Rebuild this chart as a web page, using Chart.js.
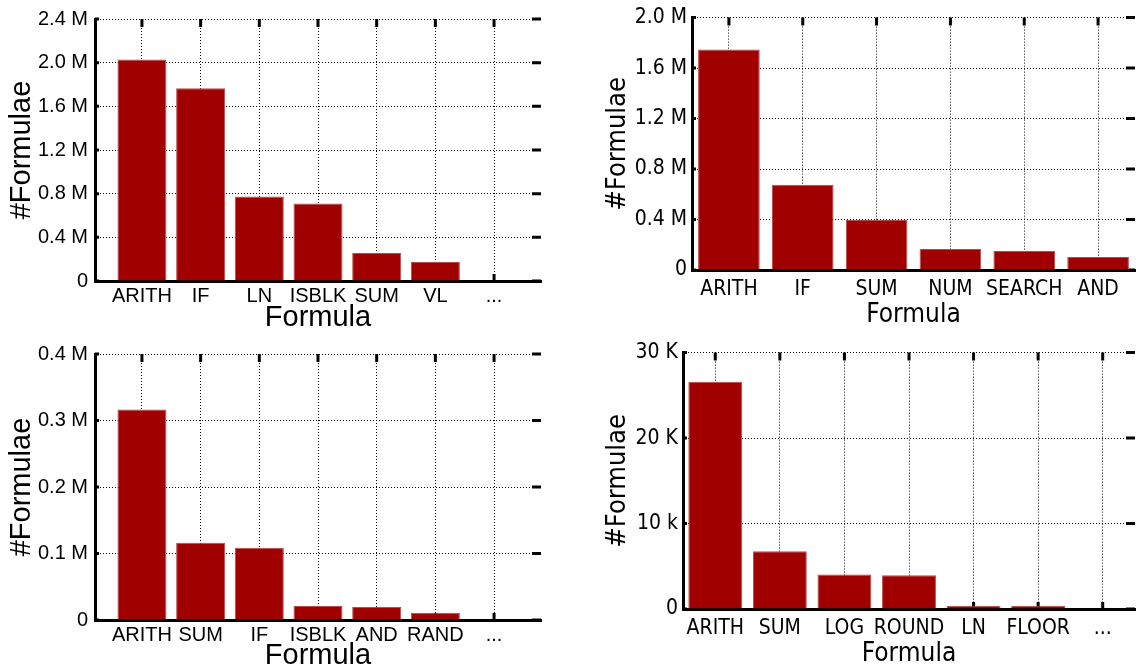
<!DOCTYPE html>
<html>
<head>
<meta charset="utf-8">
<script src="https://cdn.jsdelivr.net/npm/chart.js@4.4.1/dist/chart.umd.min.js"></script>
<style>
  body { margin: 0; background: #fff; }
  #wrap { position: relative; width: 1136px; height: 670px; overflow: hidden; }
  canvas { position: absolute; }
</style>
</head>
<body>
<div id="wrap">
  <canvas id="topLeft" width="568" height="335" style="left:0;top:0"></canvas>
  <canvas id="topRight" width="568" height="335" style="left:568px;top:0"></canvas>
  <canvas id="bottomLeft" width="568" height="335" style="left:0;top:335px"></canvas>
  <canvas id="bottomRight" width="568" height="335" style="left:568px;top:335px"></canvas>
</div>
<script>
// data
const topLeftLabels = ['ARITH', 'IF', 'LN', 'ISBLK', 'SUM', 'VL', '...'];
const topLeftValues = [2030000, 1765000, 773000, 710000, 257000, 173000, null];
const topLeftTicks = ['0', '0.4 M', '0.8 M', '1.2 M', '1.6 M', '2.0 M', '2.4 M'];

const topRightLabels = ['ARITH', 'IF', 'SUM', 'NUM', 'SEARCH', 'AND'];
const topRightValues = [1748000, 675000, 397000, 166000, 151000, 104000];
const topRightTicks = ['0', '0.4 M', '0.8 M', '1.2 M', '1.6 M', '2.0 M'];

const bottomLeftLabels = ['ARITH', 'SUM', 'IF', 'ISBLK', 'AND', 'RAND', '...'];
const bottomLeftValues = [316500, 116300, 108800, 20900, 19400, 10900, null];
const bottomLeftTicks = ['0', '0.1 M', '0.2 M', '0.3 M', '0.4 M'];

const bottomRightLabels = ['ARITH', 'SUM', 'LOG', 'ROUND', 'LN', 'FLOOR', '...'];
const bottomRightValues = [26580, 6760, 4040, 3960, 390, 380, null];
const bottomRightTicks = ['0', '10 k', '20 K', '30 K'];

const BAR_RED = '#a00000';
const ARIAL = '"Liberation Sans", Arial, sans-serif';
const TAHOMA = '"DejaVu Sans Condensed", "DejaVu Sans", sans-serif';

// short inward tick marks on all four sides (matlab style)
const edgeTicks = {
    id: 'edgeTicks',
    beforeDatasetsDraw(chart) {
        const { ctx, chartArea: a, scales: { x, y } } = chart;
        ctx.save();
        ctx.strokeStyle = '#000';
        ctx.lineWidth = 3;
        ctx.beginPath();
        x.ticks.forEach((t, i) => {
            const px = x.getPixelForTick(i);
            ctx.moveTo(px, a.top);
            ctx.lineTo(px, a.top + 8);
            ctx.moveTo(px, a.bottom);
            ctx.lineTo(px, a.bottom - 7);
        });
        y.ticks.forEach((t, i) => {
            const py = y.getPixelForTick(i);
            ctx.moveTo(a.right, py);
            ctx.lineTo(a.right - 9, py);
            ctx.moveTo(a.left, py);
            ctx.lineTo(a.left + 4, py);
        });
        ctx.stroke();
        ctx.restore();
    }
};

function makePanel(id, labels, values, yTicks, yMax, yStep, g) {
    const ctx = document.getElementById(id).getContext('2d');
    return new Chart(ctx, {
        type: 'bar',
        data: {
            datasets: [{
                data: labels.map((l, i) => ({ x: i, y: values[i] })),
                backgroundColor: BAR_RED,
                borderColor: '#b84a4a',
                borderWidth: 1,
                categoryPercentage: 1,
                barPercentage: 0.835
            }]
        },
        options: {
            responsive: false,
            animation: false,
            devicePixelRatio: 1,
            layout: { padding: { top: g.top, right: g.right, left: 0, bottom: 0 } },
            plugins: { legend: { display: false }, tooltip: { enabled: false } },
            scales: {
                x: {
                    type: 'linear',
                    min: g.xMin,
                    max: g.xMax,
                    offset: false,
                    afterFit: s => { s.height = g.xAxisH; },
                    // one tick per category, at the bar centre
                    afterBuildTicks: s => { s.ticks = labels.map((l, i) => ({ value: i })); },
                    grid: { color: '#000', lineWidth: 1, drawTicks: false, offset: false },
                    border: { display: true, color: '#000', width: 3, dash: [1, 2] },
                    ticks: {
                        autoSkip: false,
                        maxRotation: 0,
                        padding: g.xPad,
                        color: '#000',
                        font: { family: g.font, size: g.tickSize },
                        callback: (v, i) => labels[i]
                    },
                    title: {
                        display: true,
                        text: 'Formula',
                        color: '#000',
                        font: { family: g.font, size: g.xTitleSize, lineHeight: 1 },
                        padding: { top: 0, bottom: g.xTitlePad }
                    }
                },
                y: {
                    min: 0,
                    max: yMax,
                    afterFit: s => { s.width = g.yAxisW; },
                    grid: { color: '#000', lineWidth: 1, drawTicks: false },
                    border: { display: true, color: '#000', width: 3, dash: [1, 2] },
                    ticks: {
                        stepSize: yStep,
                        padding: g.yPad,
                        color: '#000',
                        font: { family: g.font, size: g.tickSize },
                        callback: (v, i) => yTicks[i]
                    },
                    title: {
                        display: true,
                        text: '#Formulae',
                        color: '#000',
                        font: { family: g.font, size: g.yTitleSize, lineHeight: 1 },
                        padding: { top: g.yTitlePad, bottom: 0 }
                    }
                }
            }
        },
        plugins: [edgeTicks]
    });
}

makePanel('topLeft', topLeftLabels, topLeftValues, topLeftTicks, 2400000, 400000, {
    font: ARIAL, tickSize: 20, top: 13, right: 27, yAxisW: 95, xAxisH: 54, xMin: -0.8, xMax: 6.8,
    xPad: 3, yPad: 7, xTitleSize: 29, yTitleSize: 29, xTitlePad: 3, yTitlePad: 7
});
makePanel('topRight', topRightLabels, topRightValues, topRightTicks, 2000000, 400000, {
    font: TAHOMA, tickSize: 21, top: 13, right: 1, yAxisW: 124, xAxisH: 65, xMin: -0.5, xMax: 5.5,
    xPad: 7, yPad: 5, xTitleSize: 26, yTitleSize: 27, xTitlePad: 7, yTitlePad: 36
});
makePanel('bottomLeft', bottomLeftLabels, bottomLeftValues, bottomLeftTicks, 400000, 100000, {
    font: ARIAL, tickSize: 20, top: 17, right: 27, yAxisW: 95, xAxisH: 50, xMin: -0.8, xMax: 6.8,
    xPad: 3, yPad: 7, xTitleSize: 29, yTitleSize: 29, xTitlePad: 0, yTitlePad: 7
});
makePanel('bottomRight', bottomRightLabels, bottomRightValues, bottomRightTicks, 30000, 10000, {
    font: TAHOMA, tickSize: 21, top: 17, right: 1, yAxisW: 115, xAxisH: 61, xMin: -0.5, xMax: 6.5,
    xPad: 7, yPad: 5, xTitleSize: 26, yTitleSize: 27, xTitlePad: 3, yTitlePad: 36
});
</script>
</body>
</html>
